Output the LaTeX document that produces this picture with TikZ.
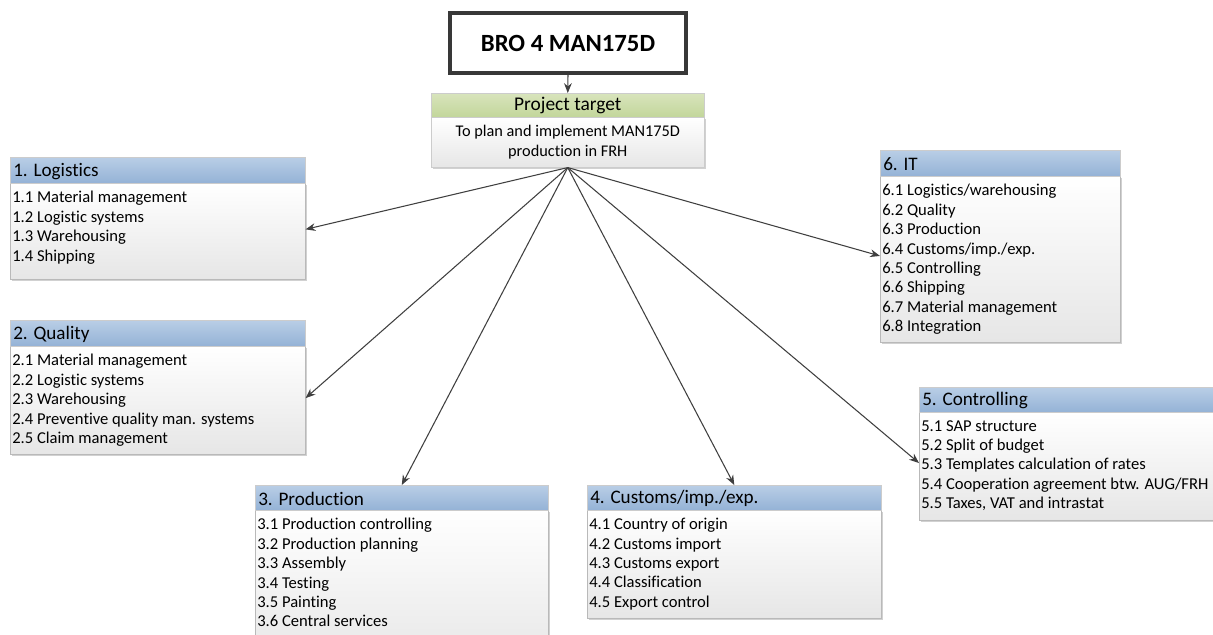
\documentclass[tikz,border=0pt]{standalone}
\usepackage{fontspec}
\setmainfont{Carlito}[Ligatures=NoCommon]
\usetikzlibrary{arrows.meta,calc,shadows}
\definecolor{hdrtop}{HTML}{B9CEE6}
\definecolor{hdrbot}{HTML}{94B2D6}
\definecolor{grntop}{HTML}{D8E4BC}
\definecolor{grnbot}{HTML}{C2D69A}
\definecolor{arrowc}{HTML}{3F3F3F}
\definecolor{bodybot}{HTML}{E6E6E6}
\def\pxl{0.025cm}
\tikzset{
 hdrbox/.style={draw=gray!40, line width=0.4pt, top color=hdrtop, bottom color=hdrbot, inner sep=0pt, anchor=north west},
 bodybox/.style={draw=gray!55, line width=0.4pt, top color=white, bottom color=bodybot, inner sep=0pt, anchor=north west, drop shadow={shadow xshift=1.2pt, shadow yshift=-1.2pt, opacity=0.18, fill=black}},
 hdrtext/.style={anchor=west, inner sep=0pt, font=\fontsize{13.6}{15}\selectfont},
 itemtext/.style={anchor=north west, inner sep=0pt, align=left, font=\fontsize{11.8}{13.8}\selectfont},
 conn/.style={draw=arrowc, line width=0.75pt, -{Stealth[length=7pt,width=5.5pt]}},
 titlebox/.style={draw=black!78, line width=2.2pt, fill=white, inner sep=0pt, font=\bfseries\fontsize{17.6}{20}\selectfont, drop shadow={shadow xshift=1.2pt, shadow yshift=-1.2pt, opacity=0.2, fill=black}},
 ptbox/.style={draw=gray!40, line width=0.4pt, inner sep=0pt, anchor=north west},
}
\newcommand\catbox[8]{%
 \node[bodybox, minimum width=#4*\pxl, minimum height=#6*\pxl] (#1b) at (#2,#3+#5) {};
 \node[hdrbox, minimum width=#4*\pxl, minimum height=#5*\pxl] (#1h) at (#2,#3) {};
 \node[hdrtext] (#1t) at ($(#1h.west)+(3,1)$) {#7};
 \node[itemtext] (#1i) at ($(#1b.north west)+(2,8)$) {#8};
}
\begin{document}
\begin{tikzpicture}[x=0.025cm,y=-0.025cm]
\useasboundingbox (0,0) rectangle (1213,634);
\clip (0,0) rectangle (1213,634);
\fill[white] (0,0) rectangle (1213,634);

% title
\node[titlebox, minimum width=236*\pxl, minimum height=60*\pxl] (title) at (568,43) {BRO 4 MAN175D};

% project target
\node[ptbox, top color=grntop, bottom color=grnbot, minimum width=273*\pxl, minimum height=24*\pxl, font=\fontsize{13.8}{15}\selectfont] (pth) at (431,93) {Project target};
\node[ptbox, top color=white, bottom color=bodybot, minimum width=273*\pxl, minimum height=50*\pxl, align=center, font=\fontsize{11.6}{14.2}\selectfont, drop shadow={shadow xshift=1.2pt, shadow yshift=-1.2pt, opacity=0.18, fill=black}] (ptb) at (431,117) {To plan and implement MAN175D\\production in FRH};

\catbox{lg}{10}{157}{295}{26}{96}{1. Logistics}{1.1 Material management\\1.2 Logistic systems\\1.3 Warehousing\\1.4 Shipping}
\catbox{ql}{10}{320}{295}{26}{108}{2. Quality}{2.1 Material management\\2.2 Logistic systems\\2.3 Warehousing\\2.4 Preventive quality man. systems\\2.5 Claim management}
\catbox{pr}{255}{485}{293}{25}{160}{3. Production}{3.1 Production controlling\\3.2 Production planning\\3.3 Assembly\\3.4 Testing\\3.5 Painting\\3.6 Central services}
\catbox{cu}{587}{485}{294}{25}{108}{4. Customs/imp./exp.}{4.1 Country of origin\\4.2 Customs import\\4.3 Customs export\\4.4 Classification\\4.5 Export control}
\catbox{co}{919}{387}{294}{25}{108}{5. Controlling}{5.1 SAP structure\\5.2 Split of budget\\5.3 Templates calculation of rates\\5.4 Cooperation agreement btw. AUG/FRH\\5.5 Taxes, VAT and intrastat}
\catbox{it}{880}{150}{240}{26}{166}{6. IT}{6.1 Logistics/warehousing\\6.2 Quality\\6.3 Production\\6.4 Customs/imp./exp.\\6.5 Controlling\\6.6 Shipping\\6.7 Material management\\6.8 Integration}

% connectors
\draw[conn] (title.south) -- (pth.north);
\draw[conn] (ptb.south) -- ($(lgb.north east)!0.48!(lgb.south east)$);
\draw[conn] (ptb.south) -- ($(qlb.north east)!0.48!(qlb.south east)$);
\draw[conn] (ptb.south) -- (prh.north);
\draw[conn] (ptb.south) -- (cuh.north);
\draw[conn] (ptb.south) -- ($(cob.north west)!0.47!(cob.south west)$);
\draw[conn] (ptb.south) -- ($(itb.north west)!0.48!(itb.south west)$);
\end{tikzpicture}
\end{document}
